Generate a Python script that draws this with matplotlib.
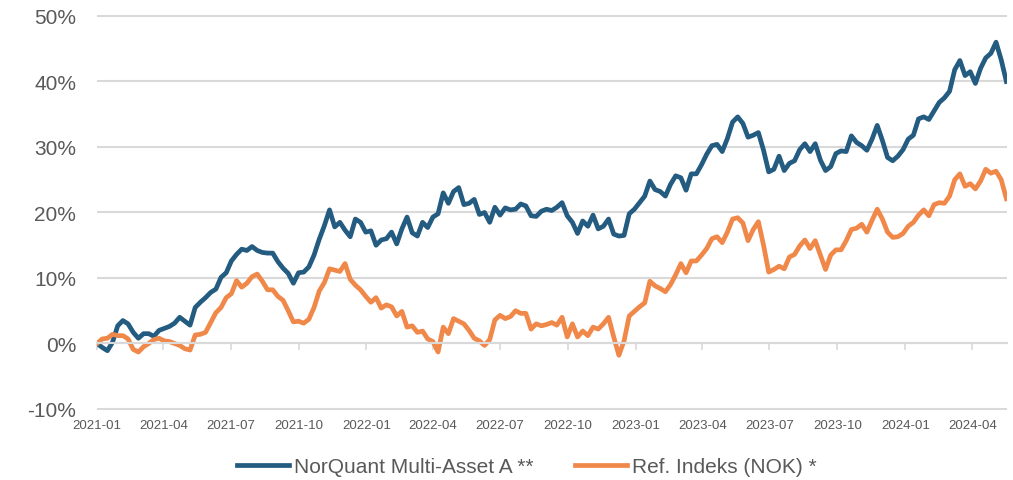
import numpy as np
import pandas as pd
import matplotlib
matplotlib.use("Agg")
import matplotlib.pyplot as plt
import matplotlib.dates as mdates
from matplotlib.ticker import FuncFormatter, MultipleLocator

# weekly values, in percent, from 2021-01-01
fund = [0.0, -0.6, -1.1, 0.2, 2.7, 3.5, 3.0, 1.7, 0.8, 1.5,
        1.5, 1.1, 2.0, 2.3, 2.6, 3.1, 4.0, 3.4, 2.8, 5.5,
        6.3, 7.0, 7.8, 8.3, 10.1, 10.8, 12.6, 13.6, 14.4, 14.2,
        14.8, 14.2, 13.9, 13.8, 13.8, 12.5, 11.5, 10.7, 9.2, 10.8,
        10.9, 11.7, 13.5, 15.9, 18.0, 20.4, 17.8, 18.5, 17.3, 16.3,
        19.0, 18.5, 17.0, 17.2, 15.0, 15.8, 16.0, 17.0, 15.2, 17.5,
        19.3, 16.9, 16.4, 18.5, 17.7, 19.3, 19.8, 23.0, 21.4, 23.2,
        23.8, 21.2, 21.4, 22.0, 19.7, 20.0, 18.5, 20.8, 19.6, 20.7,
        20.4, 20.5, 21.3, 21.0, 19.5, 19.4, 20.2, 20.5, 20.3, 20.8,
        21.5, 19.5, 18.5, 16.8, 18.7, 17.9, 19.6, 17.5, 17.9, 19.0,
        16.7, 16.4, 16.5, 19.8, 20.5, 21.5, 22.5, 24.8, 23.5, 23.2,
        22.5, 24.3, 25.6, 25.3, 23.4, 25.9, 25.9, 27.3, 28.9, 30.2,
        30.4, 29.3, 31.3, 33.8, 34.6, 33.6, 31.5, 31.8, 32.2, 29.5,
        26.2, 26.6, 28.6, 26.4, 27.5, 27.9, 29.6, 30.5, 29.3, 30.5,
        28.0, 26.4, 27.0, 29.0, 29.4, 29.3, 31.7, 30.7, 30.2, 29.5,
        31.2, 33.3, 31.0, 28.4, 27.9, 28.6, 29.6, 31.2, 31.8, 34.3,
        34.6, 34.2, 35.5, 36.8, 37.5, 38.5, 41.8, 43.2, 40.9, 41.5,
        39.7, 42.0, 43.6, 44.3, 46.0, 43.3, 40.0]

index = [0.0, 0.7, 0.8, 1.4, 1.2, 1.2, 0.7, -0.9, -1.3, -0.5,
         0.0, 0.6, 0.8, 0.4, 0.3, 0.0, -0.3, -0.8, -1.0, 1.3,
         1.4, 1.7, 3.2, 4.7, 5.5, 7.0, 7.6, 9.6, 8.6, 9.2,
         10.2, 10.6, 9.5, 8.2, 8.2, 7.2, 6.6, 5.0, 3.3, 3.4,
         3.1, 3.7, 5.5, 8.0, 9.3, 11.4, 11.2, 11.0, 12.2, 9.8,
         8.9, 8.2, 7.2, 6.3, 7.0, 5.4, 5.9, 5.6, 4.2, 4.9,
         2.5, 2.7, 1.7, 1.9, 0.7, 0.3, -1.3, 2.5, 1.5, 3.8,
         3.4, 3.0, 2.0, 0.8, 0.4, -0.3, 0.6, 3.6, 4.3, 3.8,
         4.1, 5.0, 4.6, 4.6, 2.2, 3.0, 2.7, 2.9, 3.2, 2.8,
         4.0, 1.0, 3.0, 1.0, 1.9, 1.2, 2.5, 2.2, 3.0, 4.0,
         1.0, -1.8, 0.4, 4.2, 4.9, 5.6, 6.2, 9.5, 8.8, 8.4,
         7.9, 9.0, 10.5, 12.2, 10.8, 12.6, 12.6, 13.5, 14.5, 16.0,
         16.3, 15.4, 17.0, 19.0, 19.2, 18.4, 15.7, 17.4, 18.6, 15.0,
         10.9, 11.3, 11.8, 11.4, 13.2, 13.6, 14.9, 15.8, 14.5, 15.7,
         13.5, 11.3, 13.5, 14.3, 14.3, 15.7, 17.4, 17.6, 18.2, 17.0,
         18.8, 20.5, 19.0, 17.0, 16.2, 16.3, 16.8, 17.9, 18.5, 19.6,
         20.4, 19.5, 21.2, 21.5, 21.4, 22.5, 25.0, 25.9, 24.0, 24.4,
         23.6, 24.8, 26.6, 26.0, 26.3, 25.0, 22.1]

labels = ["NorQuant Multi-Asset A **", "Ref. Indeks (NOK) *"]
colors = ["#245B80", "#F0884A"]

dates = pd.date_range("2021-01-01", periods=len(fund), freq="7D")
text_col = "#595959"
grid_col = "#D9D9D9"

plt.rcParams["font.family"] = ["Liberation Sans", "DejaVu Sans"]

fig = plt.figure(figsize=(10.13, 4.81), dpi=100)
ax = fig.add_axes([0.0958, 0.1449, 0.8984, 0.8225])

ax.plot(dates, fund, color=colors[0], lw=3.4, label=labels[0], solid_joinstyle="round")
ax.plot(dates, index, color=colors[1], lw=3.4, label=labels[1], solid_joinstyle="round")

ax.set_ylim(-10.2, 50.2)
ax.set_xlim(dates[0], dates[-1] + pd.Timedelta(days=1))
ax.yaxis.set_major_locator(MultipleLocator(10))
ax.yaxis.set_major_formatter(FuncFormatter(lambda v, p: f"{v:.0f}%"))
ax.grid(axis="y", color=grid_col, lw=1.5)
ax.set_axisbelow(True)
ax.tick_params(axis="y", length=0, pad=15, labelsize=15, labelcolor=text_col)

for s in ["top", "right", "left"]:
    ax.spines[s].set_visible(False)
# axis line with ticks sits at 0 %
ax.spines["bottom"].set_position(("data", 0))
ax.spines["bottom"].set_color(grid_col)
ax.spines["bottom"].set_linewidth(1.5)

quarters = pd.date_range("2021-01-01", "2024-04-01", freq="QS")
ax.set_xticks(quarters)
ax.tick_params(axis="x", length=5, width=1.2, color=grid_col, labelbottom=False)

sec = ax.secondary_xaxis(0)
sec.set_xticks(quarters)
sec.xaxis.set_major_formatter(mdates.DateFormatter("%Y-%m"))
sec.tick_params(length=0, pad=6, labelsize=9.5, labelcolor=text_col)
sec.spines["bottom"].set_visible(False)

fig.legend(loc="center", bbox_to_anchor=(0.52, 0.028), ncol=2, frameon=False,
           fontsize=15, labelcolor=text_col, handlelength=2.5, handletextpad=0.25,
           columnspacing=2.0)

fig.savefig("out.png", dpi=100)
